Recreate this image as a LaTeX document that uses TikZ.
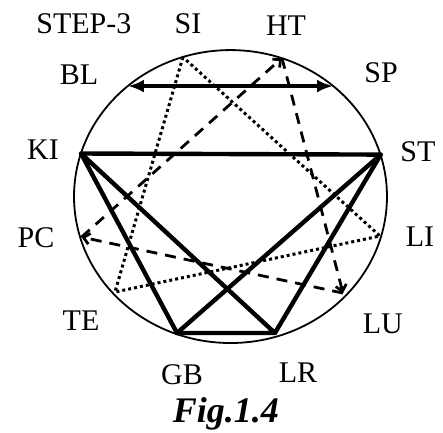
\documentclass[tikz,border=0pt]{standalone}
\usepackage{fontspec}
\setmainfont{Liberation Serif}
\usepackage{tikz}
\usetikzlibrary{arrows.meta}

\tikzset{
  meridian/.style={line width=4.4pt, line join=round, line cap=round},
  dotline/.style={line width=3pt, dash pattern=on 3pt off 3pt},
  dashline/.style={line width=2.8pt, dash pattern=on 11pt off 8pt, -{Straight Barb[length=6pt,width=11pt]}},
  lbl/.style={font=\fontsize{30}{30}\selectfont, inner sep=0pt},
}

\begin{document}
\begin{tikzpicture}[scale=5.5]
\useasboundingbox (-1.473,-1.505) rectangle (1.358,1.256);

% Draw the outer circle
\draw[line width=1.8pt] (0,0) ellipse (1 and 0.936);

% Points on the circle
\coordinate (SI) at (-0.304, 0.891);
\coordinate (HT) at ( 0.329, 0.885);
\coordinate (BL) at (-0.655, 0.706);
\coordinate (SP) at ( 0.655, 0.706);
\coordinate (KI) at (-0.955, 0.275);
\coordinate (ST) at ( 0.960, 0.268);
\coordinate (PC) at (-0.952,-0.259);
\coordinate (LI) at ( 0.955,-0.252);
\coordinate (TE) at (-0.738,-0.610);
\coordinate (LU) at ( 0.719,-0.617);
\coordinate (GB) at (-0.342,-0.872);
\coordinate (LR) at ( 0.284,-0.872);

% Labels
\node[lbl] (lstep) at (-0.937, 1.102) {STEP-3};
\node[lbl] (lSI) at (-0.272, 1.102) {SI};
\node[lbl] (lHT) at ( 0.355, 1.090) {HT};
\node[lbl] (lBL) at (-0.968, 0.780) {BL};
\node[lbl] (lSP) at ( 0.962, 0.792) {SP};
\node[lbl] (lKI) at (-1.198, 0.300) {KI};
\node[lbl] (lST) at ( 1.198, 0.284) {ST};
\node[lbl] (lPC) at (-1.243,-0.265) {PC};
\node[lbl] (lLI) at ( 1.211,-0.259) {LI};
\node[lbl] (lTE) at (-0.955,-0.796) {TE};
\node[lbl] (lLU) at ( 0.974,-0.815) {LU};
\node[lbl] (lGB) at (-0.310,-1.141) {GB};
\node[lbl] (lLR) at ( 0.431,-1.128) {LR};
\node[font=\fontsize{36}{36}\selectfont\bfseries\itshape] (fig) at (-0.030,-1.390) {Fig.1.4};

% Dotted triangle
\draw[dotline] (SI) -- (TE) -- (LI) -- cycle;

% Dashed triangle with arrows
\draw[dashline] (PC) -- (HT);
\draw[dashline] (HT) -- (LU);
\draw[dashline] (LU) -- (PC);

% Solid lines
\draw[meridian] (KI) -- (ST) -- (LR) -- (GB) -- (KI) -- (LR);
\draw[meridian] (ST) -- (GB);

% Double arrow
\draw[line width=4pt, {Latex[length=16pt,width=13pt]}-{Latex[length=16pt,width=13pt]}] (BL) -- (SP);

\end{tikzpicture}
\end{document}
